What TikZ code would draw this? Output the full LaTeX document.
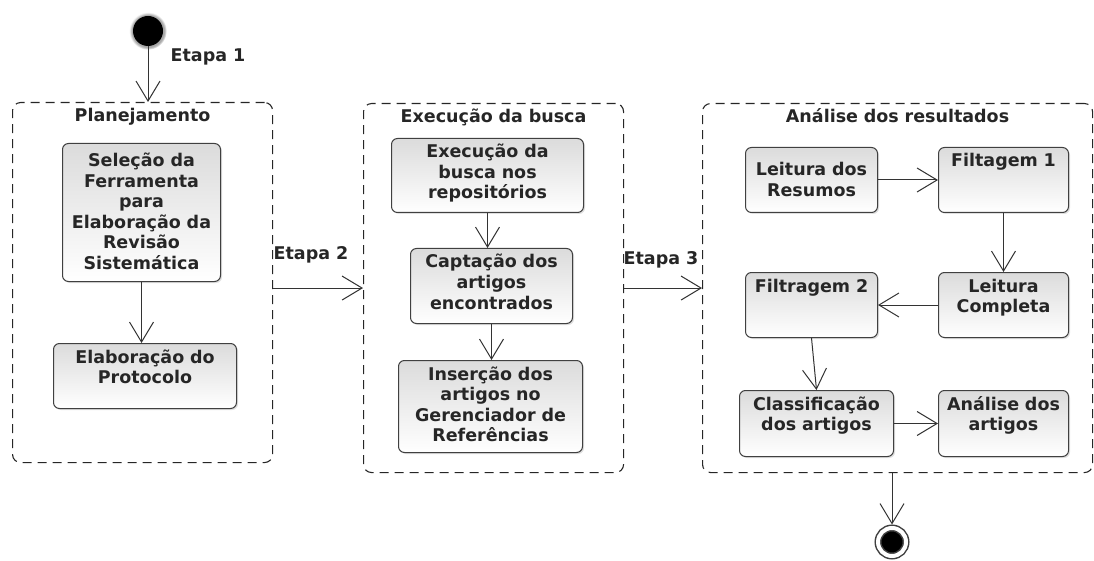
\documentclass[tikz,border=0pt]{standalone}
\usepackage{fontspec}
\setmainfont{DejaVu Sans}
\usetikzlibrary{arrows.meta,shadows}

\newcommand{\caixa}{\fontsize{17.5}{20.5}\selectfont\bfseries}

\tikzset{
  acao/.style={draw=black!75, line width=1pt, rounded corners=6pt,
    top color=black!14, bottom color=white,
    drop shadow={opacity=0.25, shadow xshift=1.5pt, shadow yshift=-1.5pt},
    anchor=north west, align=center, inner xsep=2pt, inner ysep=7pt,
    text height=12.5pt, text=black!85, font=\caixa},
  raia/.style={draw=black!85, line width=1.1pt, dash pattern=on 9pt off 6pt,
    rounded corners=8pt, anchor=north west, align=center,
    inner xsep=2pt, inner ysep=7pt, text height=12pt, text=black!85, font=\caixa},
  seta/.style={draw=black!80, line width=1pt, -{Straight Barb[length=20pt,width=24pt]}},
  etapa/.style={text=black!85, font=\caixa}
}

\begin{document}
\begin{tikzpicture}[x=1pt,y=-1pt]
\useasboundingbox (0,0) rectangle (1094,561);

% Containers
\node[raia, text width=256pt, text depth=334pt] (plan) at (12,102) {Planejamento};
\node[raia, text width=256pt, text depth=343pt] (busca) at (363,103) {Execução da busca};
\node[raia, text width=386pt, text depth=343pt] (analise) at (702,103) {Análise dos resultados};

% Start and end
\node[circle, fill=black, minimum size=30pt, inner sep=0pt,
  circular glow={fill=black!35}] (inicio) at (148,31) {};
\node[circle, fill=black, draw=black!75, double=white, double distance=4pt,
  line width=1.5pt, minimum size=28pt, inner sep=0pt, outer sep=3.5pt] (fim) at (892,542) {};

% Planejamento
\node[acao, text width=154pt, text height=16.5pt, text depth=107.5pt] (sel) at (62,143)
  {Seleção da\\Ferramenta\\para\\Elaboração da\\Revisão\\Sistemática};
\node[acao, text width=179pt, text depth=38.5pt] (prot) at (53,343) {Elaboração do\\Protocolo};

% Execucao da busca
\node[acao, text width=188pt, text depth=47.5pt] (exec) at (391,138) {Execução da\\busca nos\\repositórios};
\node[acao, text width=158pt, text depth=48.5pt] (capt) at (410,248) {Captação dos\\artigos\\encontrados};
\node[acao, text width=180pt, text depth=65.5pt] (ins) at (398,360)
  {Inserção dos\\artigos no\\Gerenciador de\\Referências};

% Analise dos resultados
\node[acao, text width=128pt, text height=21.5pt, text depth=29.5pt] (leit) at (745,147) {Leitura dos\\Resumos};
\node[acao, text width=126pt, text depth=38.5pt] (filtA) at (938,147) {Filtagem 1};
\node[acao, text width=126pt, text depth=38.5pt] (comp) at (938,272) {Leitura\\Completa};
\node[acao, text width=128pt, text depth=38.5pt] (filtB) at (745,272) {Filtragem 2};
\node[acao, text width=150pt, text depth=39.5pt] (class) at (739,390) {Classificação\\dos artigos};
\node[acao, text width=126pt, text depth=39.5pt] (anal) at (938,390) {Análise dos\\artigos};

% Etapas
\node[etapa] (etapaA) at (208,57) {Etapa 1};
\node[etapa] (etapaB) at (311,255) {Etapa 2};
\node[etapa] (etapaC) at (661,260) {Etapa 3};

% Connectors
\draw[seta] (inicio) -- (inicio |- plan.north);
\draw[seta] (busca.west -| plan.east) -- (busca.west);
\draw[seta] (analise.west -| busca.east) -- (analise.west);
\draw[seta] (fim |- analise.south) -- (fim);

\draw[seta] (sel.south) -- (sel.south |- prot.north);
\draw[seta] (exec.south) -- (exec.south |- capt.north);
\draw[seta] (capt.south) -- (capt.south |- ins.north);

\draw[seta] (leit.east) -- (leit.east -| filtA.west);
\draw[seta] (filtA.south) -- (comp.north);
\draw[seta] (comp.west) -- (filtB.east);
\draw[seta] (filtB.south) -- (class.north);
\draw[seta] (class.east) -- (anal.west);
\end{tikzpicture}
\end{document}
